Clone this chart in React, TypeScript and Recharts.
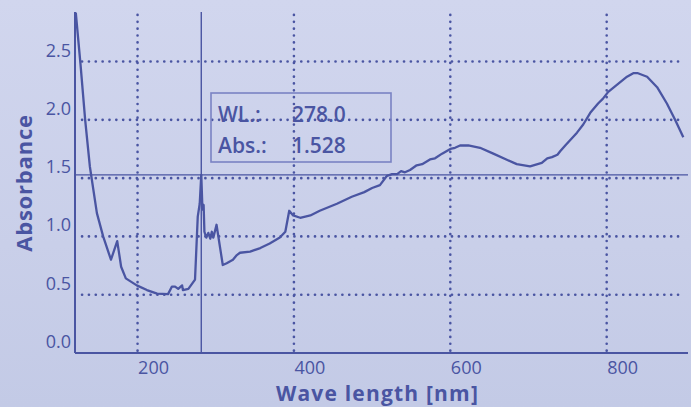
import React from "react";
import { LineChart, Line, XAxis, YAxis, ReferenceLine, Label } from "recharts";

const wavelength = [
  121, 127, 133, 139, 148, 156, 166, 174, 179, 185, 199, 212, 225, 239, 244, 248, 252, 257, 258, 265,
  273.5, 277, 279.5, 281.5, 283, 284.5, 285.5, 288, 290.5, 293, 295, 297, 301, 309, 314, 322, 327, 331, 344,
  357, 369, 382, 389, 394, 399, 408, 421, 433, 455, 474, 490, 500, 510, 519, 525.5, 532, 537, 542,
  548.5, 557, 564, 574, 580.5, 589.5, 600, 606, 612.5, 623, 638, 655, 673, 685, 702, 717, 724, 730,
  737, 740.5, 747, 762, 770, 779, 789, 795, 802, 813, 826, 834, 840, 851.7, 864.5, 877, 887.5, 898,
];
const absorbance = [
  2.92, 2.48, 2.0, 1.6, 1.2, 1.0, 0.8, 0.96, 0.74, 0.64, 0.58, 0.54, 0.51, 0.505, 0.57, 0.57, 0.55, 0.58, 0.54, 0.55,
  0.63, 1.17, 1.28, 1.528, 1.23, 1.27, 1.04, 0.99, 1.03, 0.98, 1.04, 0.99, 1.1, 0.755, 0.77, 0.8, 0.84, 0.86, 0.87,
  0.9, 0.94, 0.99, 1.04, 1.22, 1.18, 1.16, 1.18, 1.22, 1.28, 1.34, 1.38, 1.415, 1.44, 1.52, 1.535, 1.535, 1.56, 1.55,
  1.57, 1.61, 1.62, 1.66, 1.67, 1.71, 1.75, 1.76, 1.78, 1.78, 1.76, 1.71, 1.655, 1.62, 1.6, 1.63, 1.67, 1.68,
  1.7, 1.73, 1.78, 1.89, 1.96, 2.06, 2.14, 2.18, 2.24, 2.3, 2.37, 2.4, 2.4, 2.37, 2.28, 2.14, 2.0, 1.85,
];

const xTicks = [200, 400, 600, 800];
const yTicks = [0, 0.5, 1.0, 1.5, 2.0, 2.5];
const yGrid = [0.5, 1.0, 1.5, 2.0, 2.5];
// cursor position as drawn in the picture, and the readout it displays
const cursorX = 281.5;
const cursorY = 1.528;
const readoutWL = "278.0";
const readoutAbs = "1.528";
const xTitle = "Wave length [nm]";
const yTitle = "Absorbance";

const data = wavelength.map((w, i) => ({ wl: w, abs: absorbance[i] }));

const INK = "#4a55a2";
const FONT = "'Open Sans', 'Noto Sans', sans-serif";

const XTick = (props: any) => {
  const { x, payload } = props;
  return (
    <text x={x + 16} y={374} textAnchor="middle" fill={INK} fontSize={18} fontFamily={FONT}>
      {payload.value}
    </text>
  );
};

const YTick = (props: any) => {
  const { y, payload } = props;
  return (
    <text x={71} y={y - 5} textAnchor="end" fill={INK} fontSize={18} fontFamily={FONT}>
      {Number(payload.value).toFixed(1)}
    </text>
  );
};

export default function App() {
  return (
    <div
      style={{
        position: "absolute",
        left: 0,
        top: 0,
        width: 691,
        height: 407,
        overflow: "hidden",
        background: "linear-gradient(180deg, #d1d6ee 0%, #c9cfe9 60%, #c3cae6 100%)",
        fontFamily: FONT,
      }}
    >
      <LineChart width={691} height={407} data={data} margin={{ top: 12, right: 3, left: 0, bottom: 0 }}>
        <XAxis
          dataKey="wl"
          type="number"
          domain={[120, 904]}
          ticks={xTicks}
          allowDataOverflow
          height={54}
          tickLine={false}
          axisLine={{ stroke: INK, strokeWidth: 2 }}
          tick={<XTick />}
        >
          <Label
            content={() => (
              <text
                x={377.5}
                y={401}
                textAnchor="middle"
                fill={INK}
                fontSize={21}
                fontWeight={700}
                letterSpacing={1.2}
                fontFamily={FONT}
              >
                {xTitle}
              </text>
            )}
          />
        </XAxis>
        <YAxis
          type="number"
          domain={[0, 2.925]}
          ticks={yTicks}
          allowDataOverflow
          width={75}
          tickLine={false}
          axisLine={{ stroke: INK, strokeWidth: 2 }}
          tick={<YTick />}
        >
          <Label
            content={() => (
              <text
                x={0}
                y={0}
                transform="translate(32,183) rotate(-90)"
                textAnchor="middle"
                fill={INK}
                fontSize={22}
                fontWeight={700}
                letterSpacing={0.8}
                fontFamily={FONT}
              >
                {yTitle}
              </text>
            )}
          />
        </YAxis>
        {yGrid.map((v) => (
          <ReferenceLine
            key={"h" + v}
            segment={[
              { x: 129, y: v },
              { x: 895, y: v },
            ]}
            stroke={INK}
            strokeWidth={2.6}
            strokeDasharray="0.1 6.75"
            strokeLinecap="round"
          />
        ))}
        {xTicks.map((v) => (
          <ReferenceLine
            key={"v" + v}
            segment={[
              { x: v, y: 0.02 },
              { x: v, y: 2.9 },
            ]}
            stroke={INK}
            strokeWidth={2.6}
            strokeDasharray="0.1 6.75"
            strokeLinecap="round"
          />
        ))}
        <ReferenceLine x={cursorX} stroke={INK} strokeWidth={1.4} />
        <ReferenceLine y={cursorY} stroke={INK} strokeWidth={1.4} />
        <Line
          type="linear"
          dataKey="abs"
          stroke={INK}
          strokeWidth={2.3}
          dot={false}
          isAnimationActive={false}
          strokeLinejoin="round"
        />
      </LineChart>
      <svg
        width={691}
        height={407}
        style={{ position: "absolute", left: 0, top: 0, pointerEvents: "none" }}
      >
        <rect x={211} y={93} width={180} height={69} fill="none" stroke="#7a83c4" strokeWidth={1.6} />
        <text x={218} y={122} fill={INK} fontSize={21} fontWeight={600} fontFamily={FONT}>
          WL.:
        </text>
        <text x={292} y={122} fill={INK} fontSize={21} fontWeight={600} fontFamily={FONT}>
          {readoutWL}
        </text>
        <text x={218} y={153} fill={INK} fontSize={21} fontWeight={600} fontFamily={FONT}>
          Abs.:
        </text>
        <text x={292} y={153} fill={INK} fontSize={21} fontWeight={600} fontFamily={FONT}>
          {readoutAbs}
        </text>
      </svg>
    </div>
  );
}
